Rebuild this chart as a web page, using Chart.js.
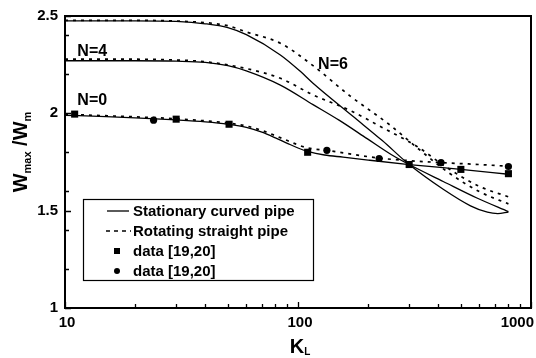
<!DOCTYPE html>
<html>
<head>
<meta charset="utf-8">
<script src="https://cdn.jsdelivr.net/npm/chart.js@4.4.1/dist/chart.umd.min.js"></script>
<style>
    html, body { margin: 0; padding: 0; background: #fff; overflow: hidden; }
    #wrap { width: 536px; height: 358px; }
</style>
</head>
<body>
<div id="wrap"><canvas id="wChart" width="536" height="358"></canvas></div>
<script>
// curves: stationary curved pipe (solid) and rotating straight pipe (dashed)
const kSolid0 = [10, 15, 20, 30, 40, 50, 60, 70, 80, 90, 100, 110, 130, 156, 200, 300, 500, 800];
const wSolid0 = [1.99, 1.983, 1.977, 1.966, 1.956, 1.944, 1.928, 1.903, 1.874, 1.846, 1.822, 1.805, 1.786, 1.775, 1.76, 1.737, 1.712, 1.687];
const kDash0 = [10, 20, 30, 50, 60, 70, 80, 90, 100, 110, 133, 160, 223, 300, 411, 600, 800];
const wDash0 = [1.995, 1.982, 1.972, 1.95, 1.935, 1.912, 1.885, 1.86, 1.838, 1.822, 1.81, 1.795, 1.77, 1.757, 1.747, 1.737, 1.728];

const kSolid4 = [10, 20, 30, 40, 50, 60, 84, 116, 150, 198, 250, 300, 420, 586, 800];
const wSolid4 = [2.27, 2.27, 2.268, 2.262, 2.245, 2.218, 2.145, 2.045, 1.965, 1.87, 1.79, 1.737, 1.65, 1.565, 1.495];
const kDash4 = [10, 20, 30, 40, 60, 84, 116, 167, 232, 324, 437, 600, 800];
const wDash4 = [2.278, 2.278, 2.274, 2.265, 2.23, 2.18, 2.095, 2.015, 1.925, 1.83, 1.72, 1.625, 1.571];

const kSolid6 = [10, 20, 30, 40, 50, 60, 84, 102, 116, 172, 230, 300, 420, 550, 650, 720, 800];
const wSolid6 = [2.475, 2.475, 2.472, 2.46, 2.44, 2.404, 2.30, 2.217, 2.155, 1.985, 1.86, 1.737, 1.61, 1.525, 1.492, 1.485, 1.493];
const kDash6 = [10, 20, 30, 40, 50, 60, 84, 116, 167, 248, 327, 437, 604, 800];
const wDash6 = [2.478, 2.478, 2.474, 2.466, 2.45, 2.418, 2.36, 2.245, 2.09, 1.94, 1.82, 1.70, 1.596, 1.535];

// measured points
const kSquares = [11, 30, 50.6, 110, 300, 500, 800];
const wSquares = [1.996, 1.97, 1.944, 1.80, 1.737, 1.712, 1.69];
const kCircles = [24, 133, 223, 411, 800];
const wCircles = [1.965, 1.81, 1.768, 1.747, 1.727];

const legendLabels = ['Stationary curved pipe', 'Rotating straight pipe', 'data [19,20]', 'data [19,20]'];
const curveNames = ['N=0', 'N=4', 'N=6'];
const curveNameK = [11.3, 11.3, 122];
const curveNameW = [2.066, 2.318, 2.25];

const xMajorTicks = [10, 100, 1000];
const xMinorTicks = [20, 30, 40, 50, 60, 70, 80, 90, 200, 300, 400, 500, 600, 700, 800, 900];
const yTicks = [1, 1.2, 1.4, 1.5, 1.6, 1.8, 2, 2.2, 2.4, 2.5];
const yLabeled = [1, 1.5, 2, 2.5];

function pts(ks, ws) {
    return ks.map(function (k, i) { return { x: k, y: ws[i] }; });
}

const FONT = '"Liberation Sans", Arial, sans-serif';

function curve(ks, ws, dashed) {
    return {
        data: pts(ks, ws),
        borderColor: '#000',
        borderWidth: dashed ? 1.7 : 1.3,
        borderDash: dashed ? [3, 5] : [],
        pointRadius: 0,
        cubicInterpolationMode: 'monotone',
        fill: false
    };
}

function markers(ks, ws, style, r) {
    return {
        data: pts(ks, ws),
        showLine: false,
        pointStyle: style,
        pointRadius: r,
        pointBackgroundColor: '#000',
        pointBorderColor: '#000',
        pointBorderWidth: 0
    };
}

const framePlugin = {
    id: 'frame',
    afterDraw: function (chart) {
        const ctx = chart.ctx;
        const a = chart.chartArea;
        const xs = chart.scales.x;
        const ys = chart.scales.y;
        ctx.save();
        ctx.strokeStyle = '#000';
        ctx.lineWidth = 2;
        ctx.strokeRect(a.left, a.top, a.right - a.left, a.bottom - a.top);

        // inward ticks
        ctx.lineWidth = 1.3;
        ctx.beginPath();
        xMajorTicks.concat(xMinorTicks).forEach(function (v) {
            const px = Math.round(xs.getPixelForValue(v)) + 0.5;
            const len = xMajorTicks.indexOf(v) >= 0 ? 6 : 4;
            ctx.moveTo(px, a.bottom);
            ctx.lineTo(px, a.bottom - len);
        });
        yTicks.forEach(function (v) {
            const py = Math.round(ys.getPixelForValue(v)) + 0.5;
            const len = yLabeled.indexOf(v) >= 0 ? 6 : 4;
            ctx.moveTo(a.left, py);
            ctx.lineTo(a.left + len, py);
        });
        ctx.stroke();

        // x tick labels
        ctx.fillStyle = '#000';
        ctx.font = 'bold 15px ' + FONT;
        ctx.textBaseline = 'middle';
        ctx.textAlign = 'left';
        xMajorTicks.forEach(function (v) {
            const t = String(v);
            const w = ctx.measureText(t).width;
            let left = xs.getPixelForValue(v) - w / 2 + 2;
            if (left + w > chart.width - 2) left = chart.width - 2 - w;
            ctx.fillText(t, left, a.bottom + 15);
        });

        // curve names
        ctx.font = 'bold 16px ' + FONT;
        curveNames.forEach(function (n, i) {
            ctx.fillText(n, xs.getPixelForValue(curveNameK[i]), ys.getPixelForValue(curveNameW[i]));
        });

        // x axis title K_L
        ctx.textBaseline = 'alphabetic';
        ctx.font = 'bold 20px ' + FONT;
        const kw = ctx.measureText('K').width;
        const cx = (a.left + a.right) / 2 + 2;
        ctx.fillText('K', cx - kw / 2 - 3, 353);
        ctx.font = 'bold 10px ' + FONT;
        ctx.fillText('L', cx + kw / 2 - 3, 355);

        // y axis title W_max / W_m
        ctx.translate(27, (a.top + a.bottom) / 2 - 10);
        ctx.rotate(-Math.PI / 2);
        const parts = [['W', 20, 0], ['max', 11, 4], [' /', 20, 0], ['W', 20, 0], ['m', 11, 4]];
        let total = 0;
        parts.forEach(function (p) {
            ctx.font = 'bold ' + p[1] + 'px ' + FONT;
            total += ctx.measureText(p[0]).width;
        });
        let x = -total / 2;
        parts.forEach(function (p) {
            ctx.font = 'bold ' + p[1] + 'px ' + FONT;
            ctx.fillText(p[0], x, p[2]);
            x += ctx.measureText(p[0]).width;
        });
        ctx.restore();

        // legend box
        ctx.save();
        const bx = a.left + 18, by = a.bottom - 109, bw = 230, bh = 81;
        ctx.strokeStyle = '#000';
        ctx.lineWidth = 1.2;
        ctx.strokeRect(bx + 0.5, by + 0.5, bw, bh);
        ctx.font = 'bold 15px ' + FONT;
        ctx.fillStyle = '#000';
        ctx.textBaseline = 'middle';
        legendLabels.forEach(function (lab, i) {
            const ry = by + 12 + i * 20;
            ctx.beginPath();
            if (i === 0) {
                ctx.lineWidth = 1.3;
                ctx.moveTo(bx + 24, ry);
                ctx.lineTo(bx + 46, ry);
                ctx.stroke();
            } else if (i === 1) {
                ctx.lineWidth = 1.7;
                ctx.setLineDash([4, 4]);
                ctx.moveTo(bx + 23, ry);
                ctx.lineTo(bx + 48, ry);
                ctx.stroke();
                ctx.setLineDash([]);
            } else if (i === 2) {
                ctx.fillRect(bx + 31, ry - 3, 6, 6);
            } else {
                ctx.arc(bx + 34, ry, 3, 0, Math.PI * 2);
                ctx.fill();
            }
            ctx.fillText(lab, bx + 50, ry + 1);
        });
        ctx.restore();
    }
};

new Chart(document.getElementById('wChart'), {
    type: 'line',
    data: {
        datasets: [
            curve(kSolid0, wSolid0, false),
            curve(kDash0, wDash0, true),
            curve(kSolid4, wSolid4, false),
            curve(kDash4, wDash4, true),
            curve(kSolid6, wSolid6, false),
            curve(kDash6, wDash6, true),
            markers(kSquares, wSquares, 'rect', 5),
            markers(kCircles, wCircles, 'circle', 3.6)
        ]
    },
    options: {
        responsive: false,
        animation: false,
        devicePixelRatio: 1,
        layout: { padding: { top: 11, right: 5, left: 0, bottom: 0 } },
        plugins: { legend: { display: false }, tooltip: { enabled: false } },
        scales: {
            x: {
                type: 'logarithmic',
                min: 10,
                max: 1000,
                grid: { display: false, drawTicks: false },
                border: { display: false },
                ticks: { display: false },
                afterFit: function (scale) { scale.height = 50; }
            },
            y: {
                type: 'linear',
                min: 1,
                max: 2.5,
                grid: { display: false, drawTicks: false },
                border: { display: false },
                afterBuildTicks: function (scale) {
                    scale.ticks = yTicks.map(function (v) { return { value: v }; });
                },
                afterFit: function (scale) { scale.width = 65; },
                ticks: {
                    padding: 7,
                    color: '#000',
                    font: { family: FONT, size: 15, weight: 'bold' },
                    autoSkip: false,
                    callback: function (v) {
                        return yLabeled.indexOf(v) >= 0 ? String(v) : '';
                    }
                }
            }
        }
    },
    plugins: [framePlugin]
});
</script>
</body>
</html>
